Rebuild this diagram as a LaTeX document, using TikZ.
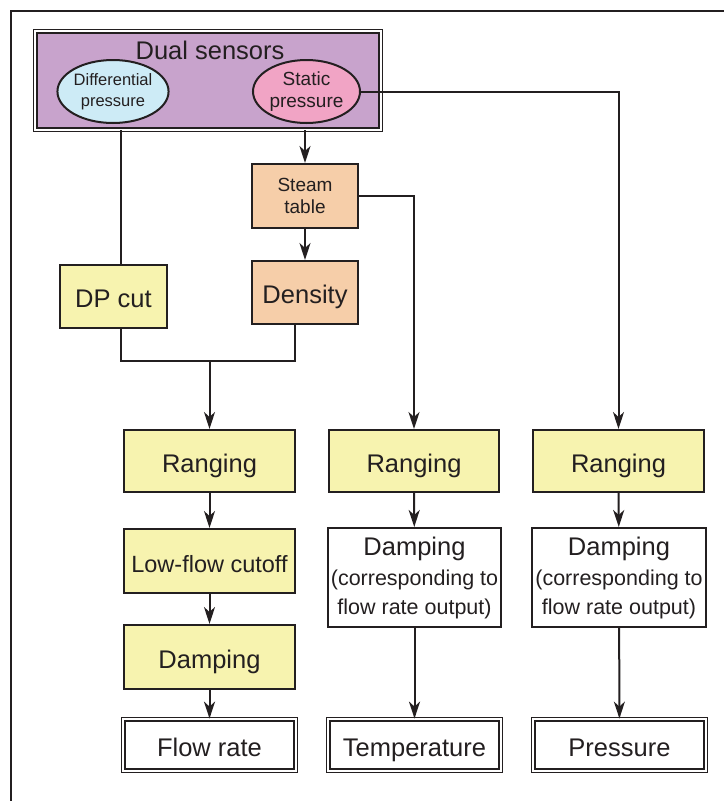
\documentclass[tikz,border=0pt]{standalone}
\usepackage{fontspec}
\setmainfont{Liberation Sans}
\usepackage{tikz}
\usetikzlibrary{shapes.geometric, arrows.meta, positioning}
\usepackage{xcolor}

\definecolor{ink}{HTML}{231F20}
\definecolor{sensorfill}{HTML}{C8A3CC}
\definecolor{dpfill}{HTML}{CDEBF6}
\definecolor{spfill}{HTML}{F1A4C5}
\definecolor{peach}{HTML}{F6CEA9}
\definecolor{lemon}{HTML}{F7F3AF}

\begin{document}
\begin{tikzpicture}[
    x=1pt, y=-1pt,
    every node/.style={text=ink, inner sep=0pt},
    box/.style={draw=ink, line width=2pt, minimum width=171pt, minimum height=63pt, align=center, font=\fontsize{25.5}{29}\selectfont},
    oneline/.style={text height=22pt, text depth=0pt},
    yellowbox/.style={box, oneline, fill=lemon},
    peachbox/.style={box, fill=peach, minimum width=106pt},
    outbox/.style={box, oneline, double=white, line width=1.4pt, double distance=2pt, minimum width=172.4pt, minimum height=51.4pt},
    sensor/.style={ellipse, draw=ink, line width=2pt, minimum width=107pt, minimum height=63pt, align=center},
    line/.style={draw=ink, line width=2pt},
    link/.style={line, -{Stealth[length=17pt, width=11pt, inset=5pt]}}
]
\useasboundingbox (0,0) rectangle (724,801);

% Frame
\draw[ink, line width=1.8pt] (11,801) -- (11,11) -- (724,11);

% Sensors
\node[box, fill=sensorfill, double=white, line width=1.4pt, double distance=2pt, minimum width=345.4pt, minimum height=98.4pt] (dual) at (208, 80.5) {};
\node[font=\fontsize{25.5}{29}\selectfont] (dualtitle) at (210, 50) {Dual sensors};
\node[sensor, fill=dpfill, minimum width=106pt, font=\fontsize{16.5}{21}\selectfont] (diff) at (113, 91.5) {Differential\\pressure};
\node[sensor, fill=spfill, font=\fontsize{19}{22}\selectfont] (stat) at (306.5, 91.5) {Static\\pressure};

% Conversion
\node[peachbox, minimum height=64pt, font=\fontsize{19}{22}\selectfont] (steam) at (305, 196) {Steam\\table};
\node[yellowbox, minimum width=107pt] (dpcut) at (113.5, 296.5) {DP cut};
\node[peachbox, oneline] (density) at (305, 292.5) {Density};

% Ranging row
\node[yellowbox, minimum height=62pt] (rangL) at (209.5, 461) {Ranging};
\node[yellowbox, minimum height=62pt, minimum width=170pt] (rangM) at (414, 461) {Ranging};
\node[yellowbox, minimum height=62pt] (rangR) at (618.5, 461) {Ranging};

% Flow rate chain
\node[yellowbox, minimum height=64pt, font=\fontsize{23.5}{29}\selectfont] (lowflow) at (209.5, 561) {Low-flow cutoff};
\node[yellowbox, minimum height=64pt] (dampL) at (209.5, 657) {Damping};

% Damping for temperature and pressure
\node[box, minimum width=173pt, minimum height=99pt] (dampM) at (414.5, 577.5) {Damping\\[1pt]\fontsize{21.5}{25}\selectfont(corresponding to\\\fontsize{21.5}{25}\selectfont flow rate output)};
\node[box, minimum width=174pt, minimum height=99pt] (dampR) at (619, 577.5) {Damping\\[1pt]\fontsize{21.5}{25}\selectfont(corresponding to\\\fontsize{21.5}{25}\selectfont flow rate output)};

% Outputs
\node[outbox] (flow) at (209.5, 745) {Flow rate};
\node[outbox] (temp) at (414.5, 745) {Temperature};
\node[outbox] (press) at (619.5, 745) {Pressure};

% Connectors
\draw[line] ([xshift=7.5pt]dpcut.north |- dual.south) -- ([xshift=7.5pt]dpcut.north);
\draw[link] (steam.north |- dual.south) -- (steam.north);
\draw[link] (stat.east) -| (rangR.north);
\draw[link] (steam.east) -| (rangM.north);
\draw[link] (steam.south) -- (density.north);

\coordinate (merge) at (rangL.north |- 0,361);
\draw[line] ([xshift=7.5pt]dpcut.south) |- (merge) -| ([xshift=-10pt]density.south);
\draw[link] (merge) -- (rangL.north);

\draw[link] (rangL) -- (lowflow);
\draw[link] (lowflow) -- (dampL);
\draw[link] (dampL) -- (flow);
\draw[link] (rangM) -- (dampM);
\draw[link] (dampM) -- (temp);
\draw[link] (rangR) -- (dampR);
\draw[link] (dampR) -- (press);

\end{tikzpicture}
\end{document}
